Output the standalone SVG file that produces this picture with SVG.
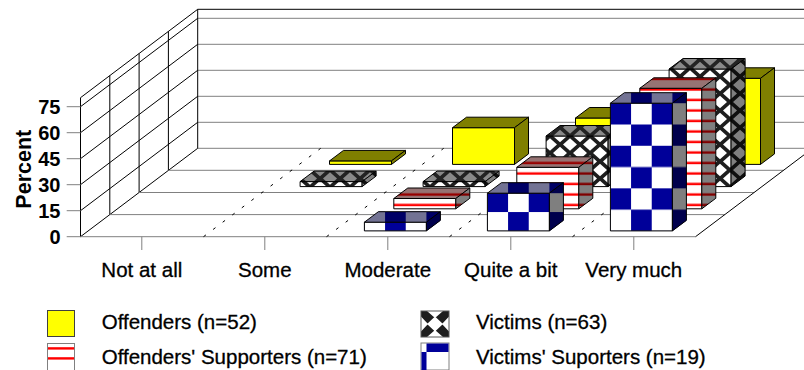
<svg xmlns="http://www.w3.org/2000/svg" width="804" height="370" viewBox="0 0 804 370">
<style>
.grid{stroke:#808080;stroke-width:1;fill:none}
.wall{stroke:#000;stroke-width:1;fill:none}
.dash{stroke:#000;stroke-width:1;stroke-dasharray:3 9;fill:none}
.tick{stroke:#808080;stroke-width:1}
.edge{stroke:#000;stroke-width:1;stroke-linejoin:round}
.shade{fill:#000;fill-opacity:.5;stroke:#000;stroke-width:1;stroke-linejoin:round}
.topV{fill:#282828;fill-opacity:.55;stroke:#000;stroke-width:1;stroke-linejoin:round}
.topO{fill:#400000;fill-opacity:.55;stroke:#000;stroke-width:1;stroke-linejoin:round}
.topB{fill:#00003c;fill-opacity:.55;stroke:#000;stroke-width:1;stroke-linejoin:round}
.ylw{fill:#ffff00}
.vic{fill:url(#lattice)}
.os{fill:url(#stripes)}
text{font-family:"Liberation Sans",Arial,Helvetica,sans-serif;fill:#000}
.ax{font-size:20px;font-weight:bold;text-anchor:end}
.cat{font-size:20.5px;text-anchor:middle;stroke:#000;stroke-width:.3}
.lg{font-size:20.5px;stroke:#000;stroke-width:.3}
.ttl{font-size:21.5px;font-weight:bold;text-anchor:middle}
</style>
<defs>
<pattern id="stripes" patternUnits="userSpaceOnUse" width="20" height="10.5">
<rect width="20" height="10.5" fill="#fff"/>
<rect y="4.3" width="20" height="2.4" fill="#f00"/>
</pattern>
<pattern id="lattice" patternUnits="userSpaceOnUse" width="20" height="17">
<rect width="20" height="17" fill="#1e1e1e"/>
<path d="M10,2.3 L17,8.5 L10,14.7 L3,8.5Z M0,-6.2 L7,0 L0,6.2 L-7,0Z M20,-6.2 L27,0 L20,6.2 L13,0Z M0,10.8 L7,17 L0,23.2 L-7,17Z M20,10.8 L27,17 L20,23.2 L13,17Z" fill="#fff"/>
</pattern>
<pattern id="chkM" patternUnits="userSpaceOnUse" width="41.34" height="38" patternTransform="translate(364.4 230.9)">
<rect width="41.34" height="38" fill="#fff"/>
<rect width="20.67" height="19" fill="#000099"/>
<rect x="20.67" y="19" width="20.67" height="19" fill="#000099"/>
</pattern>
<pattern id="chkQ" patternUnits="userSpaceOnUse" width="41.34" height="37.7" patternTransform="translate(487.4 230.9)">
<rect width="41.34" height="37.7" fill="#fff"/>
<rect width="20.67" height="18.85" fill="#000099"/>
<rect x="20.67" y="18.85" width="20.67" height="18.85" fill="#000099"/>
</pattern>
<pattern id="chkV" patternUnits="userSpaceOnUse" width="41.34" height="42.56" patternTransform="translate(610.4 230.9)">
<rect width="41.34" height="42.56" fill="#fff"/>
<rect width="20.67" height="21.28" fill="#000099"/>
<rect x="20.67" y="21.28" width="20.67" height="21.28" fill="#000099"/>
</pattern>
<clipPath id="vsw"><rect x="421" y="311" width="28" height="26"/></clipPath>
</defs>

<g id="chart-frame">
<g id="back-wall">
<line class="wall" x1="197.7" y1="9.3" x2="804" y2="9.3"/>
<line class="grid" x1="197.7" y1="18.3" x2="804" y2="18.3"/>
<line class="grid" x1="197.7" y1="44.3" x2="804" y2="44.3"/>
<line class="grid" x1="197.7" y1="70.3" x2="804" y2="70.3"/>
<line class="grid" x1="197.7" y1="96.3" x2="804" y2="96.3"/>
<line class="grid" x1="197.7" y1="122.3" x2="804" y2="122.3"/>
<line class="grid" x1="197.7" y1="148.3" x2="804" y2="148.3"/>
</g>
<g id="left-wall">
<line class="wall" x1="80.5" y1="97.7" x2="80.5" y2="236.7"/>
<line class="wall" x1="80.5" y1="97.7" x2="197.7" y2="9.3"/>
<line class="wall" x1="80.5" y1="106.7" x2="197.7" y2="18.3"/>
<line class="wall" x1="80.5" y1="132.7" x2="197.7" y2="44.3"/>
<line class="wall" x1="80.5" y1="158.7" x2="197.7" y2="70.3"/>
<line class="wall" x1="80.5" y1="184.7" x2="197.7" y2="96.3"/>
<line class="wall" x1="80.5" y1="210.7" x2="197.7" y2="122.3"/>
<line class="wall" x1="80.5" y1="236.7" x2="197.7" y2="148.3"/>
<line class="wall" x1="109.8" y1="75.6" x2="109.8" y2="214.6"/>
<line class="wall" x1="139.1" y1="53.5" x2="139.1" y2="192.5"/>
<line class="wall" x1="168.4" y1="31.3" x2="168.4" y2="170.3"/>
<line class="wall" x1="197.7" y1="9.3" x2="197.7" y2="148.3"/>
</g>
<g id="floor">
<line class="grid" x1="168.4" y1="170.3" x2="783.5" y2="170.3"/>
<line class="grid" x1="139.1" y1="192.5" x2="754.2" y2="192.5"/>
<line class="grid" x1="109.8" y1="214.6" x2="724.9" y2="214.6"/>
<line class="grid" x1="80.5" y1="236.7" x2="695.5" y2="236.7"/>
<line class="wall" x1="695.5" y1="236.7" x2="812.7" y2="148.3"/>
<line class="dash" x1="203.5" y1="236.7" x2="320.7" y2="148.3"/>
<line class="dash" x1="326.5" y1="236.7" x2="443.7" y2="148.3"/>
<line class="dash" x1="449.5" y1="236.7" x2="566.7" y2="148.3"/>
<line class="dash" x1="572.5" y1="236.7" x2="689.7" y2="148.3"/>
</g>
<g id="y-axis">
<line class="tick" x1="66.7" y1="236.7" x2="80.5" y2="236.7"/>
<line class="tick" x1="66.7" y1="210.7" x2="80.5" y2="210.7"/>
<line class="tick" x1="66.7" y1="184.7" x2="80.5" y2="184.7"/>
<line class="tick" x1="66.7" y1="158.7" x2="80.5" y2="158.7"/>
<line class="tick" x1="66.7" y1="132.7" x2="80.5" y2="132.7"/>
<line class="tick" x1="66.7" y1="106.7" x2="80.5" y2="106.7"/>
<text class="ax" x="60.5" y="243.9">0</text>
<text class="ax" x="60.5" y="217.9">15</text>
<text class="ax" x="60.5" y="191.9">30</text>
<text class="ax" x="60.5" y="165.9">45</text>
<text class="ax" x="60.5" y="139.9">60</text>
<text class="ax" x="60.5" y="113.9">75</text>
<text class="ttl" transform="translate(30.8 169.2) rotate(-90)">Percent</text>
</g>
<g id="x-axis">
<line class="tick" x1="141.8" y1="236.7" x2="141.8" y2="250"/>
<line class="tick" x1="264.8" y1="236.7" x2="264.8" y2="250"/>
<line class="tick" x1="387.8" y1="236.7" x2="387.8" y2="250"/>
<line class="tick" x1="510.8" y1="236.7" x2="510.8" y2="250"/>
<line class="tick" x1="633.8" y1="236.7" x2="633.8" y2="250"/>
<text class="cat" x="141.8" y="277.3">Not at all</text>
<text class="cat" x="264.8" y="277.3">Some</text>
<text class="cat" x="387.8" y="277.3">Moderate</text>
<text class="cat" x="510.8" y="277.3">Quite a bit</text>
<text class="cat" x="633.8" y="277.3">Very much</text>
</g>
</g>

<g id="bars">
<g id="bar-some-offenders">
<rect class="ylw edge" x="329.5" y="160.9" width="62" height="3.5"/>
<polygon class="ylw" points="329.5,160.9 343.5,150.4 405.5,150.4 391.5,160.9"/>
<polygon class="shade" points="329.5,160.9 343.5,150.4 405.5,150.4 391.5,160.9"/>
<polygon class="ylw" points="391.5,160.9 405.5,150.4 405.5,153.9 391.5,164.4"/>
<polygon class="shade" points="391.5,160.9 405.5,150.4 405.5,153.9 391.5,164.4"/>
</g>
<g id="bar-moderate-offenders">
<rect class="ylw edge" x="452.5" y="127.7" width="62" height="36.7"/>
<polygon class="ylw" points="452.5,127.7 466.5,117.2 528.5,117.2 514.5,127.7"/>
<polygon class="shade" points="452.5,127.7 466.5,117.2 528.5,117.2 514.5,127.7"/>
<polygon class="ylw" points="514.5,127.7 528.5,117.2 528.5,153.9 514.5,164.4"/>
<polygon class="shade" points="514.5,127.7 528.5,117.2 528.5,153.9 514.5,164.4"/>
</g>
<g id="bar-quiteabit-offenders">
<rect class="ylw edge" x="575.5" y="118" width="62" height="46.4"/>
<polygon class="ylw" points="575.5,118 589.5,107.5 651.5,107.5 637.5,118"/>
<polygon class="shade" points="575.5,118 589.5,107.5 651.5,107.5 637.5,118"/>
<polygon class="ylw" points="637.5,118 651.5,107.5 651.5,153.9 637.5,164.4"/>
<polygon class="shade" points="637.5,118 651.5,107.5 651.5,153.9 637.5,164.4"/>
</g>
<g id="bar-verymuch-offenders">
<rect class="ylw edge" x="698.5" y="78.3" width="62" height="86.1"/>
<polygon class="ylw" points="698.5,78.3 712.5,67.8 774.5,67.8 760.5,78.3"/>
<polygon class="shade" points="698.5,78.3 712.5,67.8 774.5,67.8 760.5,78.3"/>
<polygon class="ylw" points="760.5,78.3 774.5,67.8 774.5,153.9 760.5,164.4"/>
<polygon class="shade" points="760.5,78.3 774.5,67.8 774.5,153.9 760.5,164.4"/>
</g>
<g id="bar-some-victims">
<rect class="vic edge" x="300.1" y="181.6" width="62" height="5"/>
<polygon class="vic" points="300.1,181.6 314.1,171.1 376.1,171.1 362.1,181.6"/>
<polygon class="topV" points="300.1,181.6 314.1,171.1 376.1,171.1 362.1,181.6"/>
<polygon class="vic" points="362.1,181.6 376.1,171.1 376.1,176.1 362.1,186.6"/>
<polygon class="shade" points="362.1,181.6 376.1,171.1 376.1,176.1 362.1,186.6"/>
</g>
<g id="bar-moderate-victims">
<rect class="vic edge" x="423.1" y="181.6" width="62" height="5"/>
<polygon class="vic" points="423.1,181.6 437.1,171.1 499.1,171.1 485.1,181.6"/>
<polygon class="topV" points="423.1,181.6 437.1,171.1 499.1,171.1 485.1,181.6"/>
<polygon class="vic" points="485.1,181.6 499.1,171.1 499.1,176.1 485.1,186.6"/>
<polygon class="shade" points="485.1,181.6 499.1,171.1 499.1,176.1 485.1,186.6"/>
</g>
<g id="bar-quiteabit-victims">
<rect class="vic edge" x="546.1" y="136" width="62" height="50.6"/>
<polygon class="vic" points="546.1,136 560.1,125.5 622.1,125.5 608.1,136"/>
<polygon class="topV" points="546.1,136 560.1,125.5 622.1,125.5 608.1,136"/>
<polygon class="vic" points="608.1,136 622.1,125.5 622.1,176.1 608.1,186.6"/>
<polygon class="shade" points="608.1,136 622.1,125.5 622.1,176.1 608.1,186.6"/>
</g>
<g id="bar-verymuch-victims">
<rect class="vic edge" x="669.1" y="69" width="62" height="117.6"/>
<polygon class="vic" points="669.1,69 683.1,58.5 745.1,58.5 731.1,69"/>
<polygon class="topV" points="669.1,69 683.1,58.5 745.1,58.5 731.1,69"/>
<polygon class="vic" points="731.1,69 745.1,58.5 745.1,176.1 731.1,186.6"/>
<polygon class="shade" points="731.1,69 745.1,58.5 745.1,176.1 731.1,186.6"/>
</g>
<g id="bar-moderate-offsupporters">
<rect class="os edge" x="393.8" y="198.5" width="62" height="10.3"/>
<polygon class="os" points="393.8,198.5 407.8,188 469.8,188 455.8,198.5"/>
<polygon class="topO" points="393.8,198.5 407.8,188 469.8,188 455.8,198.5"/>
<polygon class="os" points="455.8,198.5 469.8,188 469.8,198.3 455.8,208.8"/>
<polygon class="shade" points="455.8,198.5 469.8,188 469.8,198.3 455.8,208.8"/>
</g>
<g id="bar-quiteabit-offsupporters">
<rect class="os edge" x="516.8" y="167.3" width="62" height="41.5"/>
<polygon class="os" points="516.8,167.3 530.8,156.8 592.8,156.8 578.8,167.3"/>
<polygon class="topO" points="516.8,167.3 530.8,156.8 592.8,156.8 578.8,167.3"/>
<polygon class="os" points="578.8,167.3 592.8,156.8 592.8,198.3 578.8,208.8"/>
<polygon class="shade" points="578.8,167.3 592.8,156.8 592.8,198.3 578.8,208.8"/>
</g>
<g id="bar-verymuch-offsupporters">
<rect class="os edge" x="639.8" y="88.3" width="62" height="120.5"/>
<polygon class="os" points="639.8,88.3 653.8,77.8 715.8,77.8 701.8,88.3"/>
<polygon class="topO" points="639.8,88.3 653.8,77.8 715.8,77.8 701.8,88.3"/>
<polygon class="os" points="701.8,88.3 715.8,77.8 715.8,198.3 701.8,208.8"/>
<polygon class="shade" points="701.8,88.3 715.8,77.8 715.8,198.3 701.8,208.8"/>
</g>
<g id="bar-moderate-vicsupporters">
<rect fill="url(#chkM)" class="edge" x="364.4" y="222.2" width="62" height="8.7"/>
<polygon fill="url(#chkM)" points="364.4,222.2 378.4,211.7 440.4,211.7 426.4,222.2"/>
<polygon class="topB" points="364.4,222.2 378.4,211.7 440.4,211.7 426.4,222.2"/>
<polygon fill="url(#chkM)" points="426.4,222.2 440.4,211.7 440.4,220.4 426.4,230.9"/>
<polygon class="shade" points="426.4,222.2 440.4,211.7 440.4,220.4 426.4,230.9"/>
</g>
<g id="bar-quiteabit-vicsupporters">
<rect fill="url(#chkQ)" class="edge" x="487.4" y="193.2" width="62" height="37.7"/>
<polygon fill="url(#chkQ)" points="487.4,193.2 501.4,182.7 563.4,182.7 549.4,193.2"/>
<polygon class="topB" points="487.4,193.2 501.4,182.7 563.4,182.7 549.4,193.2"/>
<polygon fill="url(#chkQ)" points="549.4,193.2 563.4,182.7 563.4,220.4 549.4,230.9"/>
<polygon class="shade" points="549.4,193.2 563.4,182.7 563.4,220.4 549.4,230.9"/>
</g>
<g id="bar-verymuch-vicsupporters">
<rect fill="url(#chkV)" class="edge" x="610.4" y="103.2" width="62" height="127.7"/>
<polygon fill="url(#chkV)" points="610.4,103.2 624.4,92.7 686.4,92.7 672.4,103.2"/>
<polygon class="topB" points="610.4,103.2 624.4,92.7 686.4,92.7 672.4,103.2"/>
<polygon fill="url(#chkV)" points="672.4,103.2 686.4,92.7 686.4,220.4 672.4,230.9"/>
<polygon class="shade" points="672.4,103.2 686.4,92.7 686.4,220.4 672.4,230.9"/>
</g>
</g>

<g id="legend">
<g id="legend-offenders">
<rect x="47.5" y="310.5" width="27" height="26" fill="#ffff00" stroke="#404040"/>
<text class="lg" x="101.7" y="329.3">Offenders (n=52)</text>
</g>
<g id="legend-offsupporters">
<rect x="47.5" y="343.5" width="27" height="27" fill="#fff" stroke="#808080"/>
<rect x="48" y="347.2" width="26" height="2.4" fill="#f00"/>
<rect x="48" y="357.2" width="26" height="2.4" fill="#f00"/>
<text class="lg" x="101.7" y="364">Offenders' Supporters (n=71)</text>
</g>
<g id="legend-victims">
<rect x="421" y="311" width="28" height="26" fill="#1e1e1e"/>
<g clip-path="url(#vsw)" fill="#fff">
<path d="M435,316.5 L443,324 L435,331.5 L427,324Z M435,304 L443,311 L435,318 L427,311Z M435,330 L443,337 L435,344 L427,337Z M421,316.5 L428,324 L421,331.5 L414,324Z M449,316.5 L456,324 L449,331.5 L442,324Z"/>
</g>
<rect x="421" y="311" width="28" height="26" fill="none" stroke="#555"/>
<text class="lg" x="476" y="329.3">Victims (n=63)</text>
</g>
<g id="legend-vicsupporters">
<rect x="421" y="343" width="28" height="27" fill="#fff" stroke="#808080"/>
<rect x="426.5" y="343.5" width="22" height="8.5" fill="#000099"/>
<rect x="421.5" y="352" width="5" height="18" fill="#000099"/>
<text class="lg" x="476" y="364">Victims' Suporters (n=19)</text>
</g>
</g>
</svg>
